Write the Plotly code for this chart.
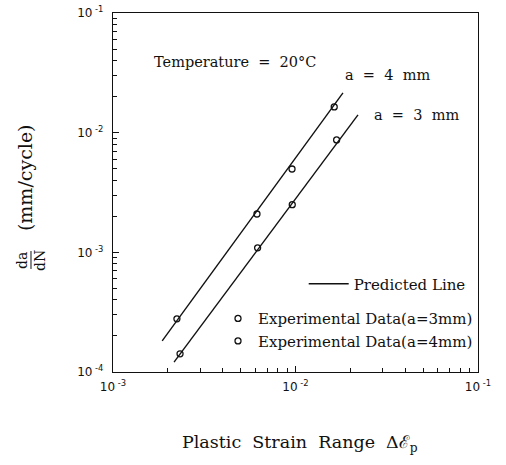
import plotly.graph_objects as go

# Predicted lines (end points)
line4_x = [1.86e-3, 1.82e-2]
line4_y = [1.82e-4, 2.15e-2]
line3_x = [2.16e-3, 2.20e-2]
line3_y = [1.21e-4, 1.41e-2]

# Experimental data
exp3_x = [2.33e-3, 6.2e-3, 9.6e-3, 1.68e-2]
exp3_y = [1.42e-4, 1.09e-3, 2.50e-3, 8.7e-3]
exp4_x = [2.24e-3, 6.15e-3, 9.57e-3, 1.63e-2]
exp4_y = [2.78e-4, 2.09e-3, 4.97e-3, 1.64e-2]

x_ticks = [1e-3, 1e-2, 1e-1]
x_ticktext = ["10<sup> -3</sup>", "10<sup> -2</sup>", "10<sup> -1</sup>"]
y_ticks = [1e-4, 1e-3, 1e-2, 1e-1]
y_ticktext = ["10<sup> -4</sup>", "10<sup> -3</sup>", "10<sup> -2</sup>", "10<sup> -1</sup>"]

x_minor = [m * 10.0 ** e for e in (-3, -2) for m in range(2, 10)]
y_minor = [m * 10.0 ** e for e in (-4, -3, -2) for m in range(2, 10)]

FONT = "DejaVu Serif"
BLACK = "#111"

fig = go.Figure()
fig.add_trace(go.Scatter(x=line4_x, y=line4_y, mode="lines", name="Predicted Line",
                         line=dict(color=BLACK, width=1.4), showlegend=True, legend="legend2"))
fig.add_trace(go.Scatter(x=line3_x, y=line3_y, mode="lines", name="Predicted Line",
                         line=dict(color=BLACK, width=1.4), showlegend=False))
fig.add_trace(go.Scatter(x=exp3_x, y=exp3_y, mode="markers", name="Experimental Data(a=3mm)",
                         marker=dict(symbol="circle-open", size=6, color=BLACK, line=dict(width=1.3)),
                         legend="legend"))
fig.add_trace(go.Scatter(x=exp4_x, y=exp4_y, mode="markers", name="Experimental Data(a=4mm)",
                         marker=dict(symbol="circle-open", size=6, color=BLACK, line=dict(width=1.3)),
                         legend="legend"))

axis_common = dict(type="log", showgrid=False, zeroline=False, showline=True, linecolor=BLACK,
                   linewidth=1.3, mirror=True, ticks="inside", ticklen=6, tickcolor=BLACK,
                   tickwidth=1.2, automargin=False, ticklabeloverflow="allow",
                   tickfont=dict(family="DejaVu Sans", size=12, color=BLACK))

fig.update_xaxes(range=[-3, -1], tickmode="array", tickvals=x_ticks, ticktext=x_ticktext,
                 ticklabelstandoff=3,
                 minor=dict(tickmode="array", tickvals=x_minor, ticks="inside", ticklen=4,
                            tickcolor=BLACK, tickwidth=1.2, showgrid=False),
                 **axis_common)
fig.update_yaxes(range=[-4, -1], tickmode="array", tickvals=y_ticks, ticktext=y_ticktext,
                 ticklabelstandoff=6,
                 minor=dict(tickmode="array", tickvals=y_minor, ticks="inside", ticklen=4,
                            tickcolor=BLACK, tickwidth=1.2, showgrid=False),
                 **axis_common)

ann_font = dict(family=FONT, size=14.5, color=BLACK)
annotations = [
    dict(text="Temperature\u00a0\u00a0=\u00a0\u00a020°C", x=0.107, y=0.864, xanchor="left", yanchor="middle"),
    dict(text="a\u00a0\u00a0=\u00a0\u00a04\u00a0\u00a0mm", x=0.630, y=0.827, xanchor="left", yanchor="middle"),
    dict(text="a\u00a0\u00a0=\u00a0\u00a03\u00a0\u00a0mm", x=0.710, y=0.716, xanchor="left", yanchor="middle"),
]
for a in annotations:
    fig.add_annotation(xref="paper", yref="paper", showarrow=False, font=ann_font, **a)

# axis titles
fig.add_annotation(xref="paper", yref="paper", x=0.512, y=-0.198, showarrow=False,
                   text="Plastic\u00a0 Strain\u00a0 Range\u00a0 Δℰ<sub>p</sub>",
                   font=dict(family=FONT, size=17.5, color=BLACK), xanchor="center", yanchor="middle")
fig.add_annotation(xref="paper", yref="paper", x=-0.2411, y=0.543, showarrow=False,
                   text="(mm/cycle)", textangle=-90,
                   font=dict(family=FONT, size=19, color=BLACK),
                   xanchor="center", yanchor="middle")
fig.add_annotation(xref="paper", yref="paper", x=-0.2247, y=0.312, showarrow=False,
                   text="da<br>dN", textangle=-90,
                   font=dict(family=FONT, size=14, color=BLACK),
                   xanchor="center", yanchor="middle")
fig.add_shape(type="line", xref="paper", yref="paper", x0=-0.2247, x1=-0.2247, y0=0.287, y1=0.337,
              line=dict(color=BLACK, width=1))

legend_font = dict(family=FONT, size=15, color=BLACK)
fig.update_layout(
    width=506, height=465,
    margin=dict(l=113, r=28, t=13, b=93),
    paper_bgcolor="white", plot_bgcolor="white",
    showlegend=True,
    legend=dict(x=1.0, y=0.118, xanchor="right", yanchor="middle", bgcolor="rgba(0,0,0,0)",
                font=legend_font, itemwidth=30),
    legend2=dict(x=0.98, y=0.245, xanchor="right", yanchor="middle", bgcolor="rgba(0,0,0,0)",
                 font=legend_font, itemwidth=40),
)

fig.write_html("out.html", config={"displayModeBar": False},
               post_script="document.body.style.margin='0';")
